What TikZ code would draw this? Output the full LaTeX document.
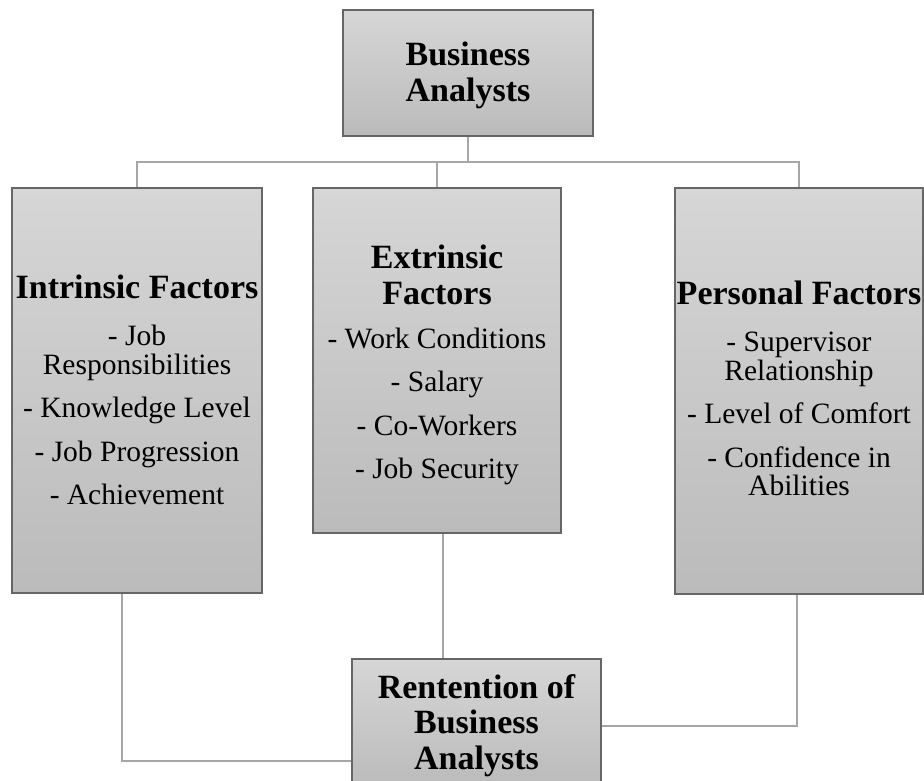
\documentclass[tikz,border=0pt]{standalone}
\usepackage{fontspec}
\setmainfont{Liberation Serif}
\pgfdeclarelayer{background}
\pgfsetlayers{background,main}
\definecolor{boxtop}{HTML}{D6D6D6}
\definecolor{boxbot}{HTML}{BBBBBB}
\definecolor{boxline}{HTML}{666666}
\definecolor{wire}{HTML}{A6A6A6}
\newcommand{\hd}[1]{{\bfseries\fontsize{34}{28.5}\selectfont #1}}
\begin{document}
\begin{tikzpicture}[x=1pt,y=-1pt,
  panel/.style={draw=boxline,line width=1.1pt,top color=boxtop,bottom color=boxbot,
    rectangle,anchor=north west,inner sep=0pt,outer sep=0pt},
  caption/.style={anchor=north,align=center,inner sep=0pt,
    font=\fontsize{29.5}{28.5}\selectfont},
  link/.style={draw=wire,line width=2pt}]
\useasboundingbox (0,0) rectangle (924,780);
\clip (0,0) rectangle (924,780);

% boxes
\node[panel,minimum width=250pt,minimum height=126pt] (ba)   at (343,10)  {};
\node[panel,minimum width=250pt,minimum height=405pt] (intr) at (12,188)  {};
\node[panel,minimum width=248pt,minimum height=345pt] (extr) at (313,188) {};
\node[panel,minimum width=248pt,minimum height=406pt] (pers) at (675,188) {};
\node[panel,minimum width=249pt,minimum height=126pt] (ret)  at (352,659) {};

% texts
\node[caption] (ba-t) at (468,42) {\hd{Business}\\[7pt]\hd{Analysts}};
\node[caption] (intr-t) at (137,275) {\hd{Intrinsic Factors}\\[18.5pt]
  - Job\\Responsibilities\\[15pt]
  - Knowledge Level\\[15pt]
  - Job Progression\\[15pt]
  - Achievement};
\node[caption] (extr-t) at (437,245) {\hd{Extrinsic}\\[7pt]\hd{Factors}\\[15.5pt]
  - Work Conditions\\[15pt]
  - Salary\\[15pt]
  - Co-Workers\\[15pt]
  - Job Security};
\node[caption] (pers-t) at (799,281) {\hd{Personal Factors}\\[18.5pt]
  - Supervisor\\Relationship\\[15pt]
  - Level of Comfort\\[15pt]
  - Confidence in\\Abilities};
\node[caption] (ret-t) at (476.5,674) {\hd{Rentention of}\\[7pt]\hd{Business}\\[7pt]\hd{Analysts}};

% connectors
\coordinate (bus) at (468,162);
\begin{pgfonlayer}{background}
\draw[link] (ba.south) -- (bus);
\draw[link] (bus) -| (intr.north);
\draw[link] (bus) -| (extr.north);
\draw[link] (bus) -| (pers.north);
\draw[link] ([xshift=-15pt]intr.south) |- ([yshift=-39pt]ret.west);
\draw[link] ([xshift=6pt]extr.south) -- ([xshift=6pt]extr.south |- ret.north);
\draw[link] ([xshift=-2pt]pers.south) |- ([yshift=-4pt]ret.east);
\end{pgfonlayer}
\end{tikzpicture}
\end{document}
